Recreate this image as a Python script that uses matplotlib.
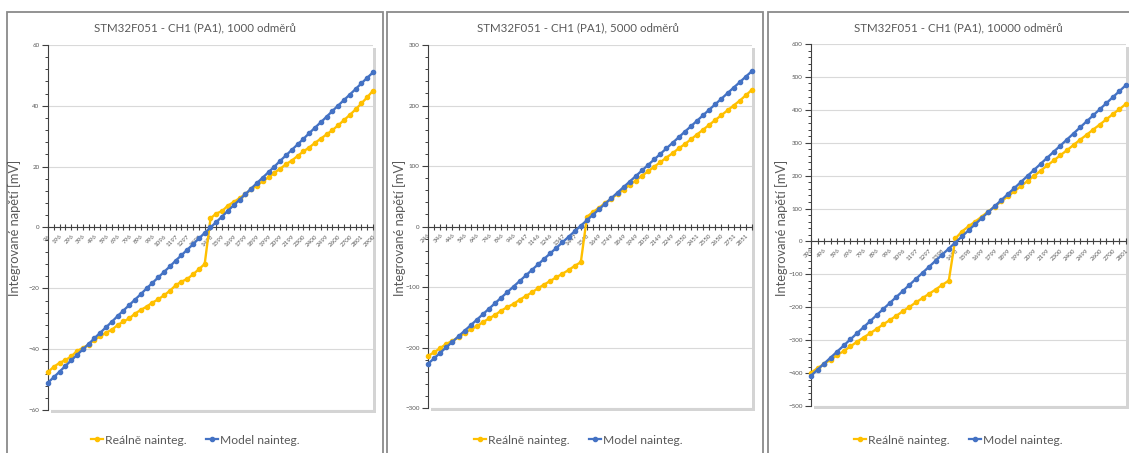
import matplotlib
matplotlib.use('Agg')
import matplotlib.pyplot as plt
from matplotlib.patches import Rectangle
from matplotlib.lines import Line2D
from matplotlib.ticker import MultipleLocator

# ---------------- data ----------------
labels1 = [96, 196, 296, 396, 496, 596, 696, 796, 896, 996, 1096, 1197, 1297, 1398, 1498,
           1599, 1699, 1799, 1899, 1999, 2099, 2199, 2300, 2400, 2499, 2600, 2700, 2801, 2900]
real1 = [-47.5, -45.8, -44.5, -43.6, -42.4, -40.6, -39.6, -38.5, -36.9, -35.8, -34.6, -33.6,
         -32.1, -30.9, -29.9, -28.3, -27.1, -26.0, -24.7, -23.6, -22.3, -20.8, -19.0, -17.8,
         -16.9, -15.4, -13.7, -12.0,
         3.0, 4.6, 5.4, 7.2, 8.4, 9.6, 11.0, 12.5, 13.8, 15.2, 16.5, 18.0, 19.3, 20.8, 22.0,
         23.5, 25.0, 26.3, 27.8, 29.2, 30.6, 32.0, 33.6, 35.3, 37.0, 38.8, 40.8, 42.8, 45.0]
model1 = [-51.0, -49.2, -47.4, -45.5, -43.7, -41.9, -40.1, -38.3, -36.4, -34.6, -32.8, -31.0,
          -29.1, -27.3, -25.5, -23.7, -21.9, -20.0, -18.2, -16.4, -14.6, -12.8, -10.9, -9.1,
          -7.3, -5.5, -3.6, -1.8, 0.0, 1.8, 3.6, 5.5, 7.3, 9.1, 10.9, 12.8, 14.6, 16.4, 18.2,
          20.0, 21.9, 23.7, 25.5, 27.3, 29.1, 31.0, 32.8, 34.6, 36.4, 38.3, 40.1, 41.9, 43.7,
          45.5, 47.4, 49.2, 51.0]

labels2 = [246, 346, 446, 546, 646, 746, 846, 946, 1047, 1146, 1246, 1347, 1447, 1548,
           1649, 1749, 1849, 1949, 2050, 2149, 2249, 2350, 2451, 2550, 2650, 2751, 2851]
real2 = [-214, -208, -201, -194, -189, -183, -176, -170, -165, -158, -152, -146, -139, -133,
         -128, -121, -115, -109, -102, -96, -90, -84, -78, -72, -65, -59,
         16, 24, 31, 39, 46, 54, 61, 69, 76, 84, 91, 99, 106, 114, 121, 129, 136, 144, 152,
         160, 168, 176, 184, 192, 200, 208, 217, 226]
model2 = [-227.0, -217.9, -208.7, -199.6, -190.5, -181.4, -172.2, -163.1, -154.0, -144.8,
          -135.7, -126.6, -117.4, -108.3, -99.2, -90.1, -80.9, -71.8, -62.7, -53.5, -44.4,
          -35.3, -26.1, -17.0, -7.9, 1.3, 10.4, 19.5, 28.6, 37.8, 46.9, 56.0, 65.2, 74.3,
          83.4, 92.6, 101.7, 110.8, 119.9, 129.1, 138.2, 147.3, 156.5, 165.6, 174.7, 183.9,
          193.0, 202.1, 211.2, 220.4, 229.5, 238.6, 247.8, 256.9]

labels3 = [396, 496, 596, 696, 796, 896, 996, 1096, 1197, 1297, 1398, 1498, 1598, 1699,
           1799, 1899, 1999, 2099, 2199, 2300, 2400, 2499, 2600, 2700, 2801]
real3 = [-399, -385, -372, -359, -345, -333, -319, -305, -292, -279, -266, -252, -239, -226,
         -212, -199, -185, -172, -159, -146, -132, -119,
         9, 30, 46, 60, 75, 91, 106, 122, 137, 153, 168, 184, 199, 215, 231, 246, 262, 277,
         293, 309, 324, 340, 355, 371, 387, 402, 418]
model3 = [-408.0, -389.6, -371.2, -352.8, -334.4, -316.0, -297.6, -279.2, -260.8, -242.4,
          -224.0, -205.6, -187.2, -168.8, -150.4, -132.0, -113.6, -95.2, -76.8, -58.4, -40.0,
          -21.6, -3.2, 15.2, 33.6, 52.0, 70.4, 88.8, 107.2, 125.6, 144.0, 162.4, 180.8, 199.2,
          217.6, 236.0, 254.4, 272.8, 291.2, 309.6, 328.0, 346.4, 364.8, 383.2, 401.6, 420.0,
          438.4, 456.8, 475.2]

titles = ["STM32F051 - CH1 (PA1), 1000 odměrů",
          "STM32F051 - CH1 (PA1), 5000 odměrů",
          "STM32F051 - CH1 (PA1), 10000 odměrů"]
ylabel = "Integrované napětí [mV]"
series_names = ["Reálně nainteg.", "Model nainteg."]

# ---------------- style ----------------
W, H = 1129, 453
FONT = ['Lato', 'DejaVu Sans']
GREY = '#595959'
AXC = '#404040'
YEL = '#FFC000'
BLU = '#4472C4'

fig = plt.figure(figsize=(W / 100, H / 100), dpi=100)
fig.patch.set_facecolor('white')


def fx(p):
    return p / W


def fy(p):
    return 1 - p / H


panels = [
    dict(frame=(7, 383), box=(48, 45, 373, 410), cx=195, ylx=15,
         labels=labels1, real=real1, model=model1, ylim=(-60, 60), major=20, minor=4),
    dict(frame=(387, 763), box=(428, 45, 752, 408), cx=578, ylx=400,
         labels=labels2, real=real2, model=model2, ylim=(-300, 300), major=100, minor=20),
    dict(frame=(768, 1140), box=(811, 44, 1126, 406), cx=958, ylx=782,
         labels=labels3, real=real3, model=model3, ylim=(-500, 600), major=100, minor=20),
]

for p, title in zip(panels, titles):
    f0, f1 = p['frame']
    fig.patches.append(Rectangle((fx(f0), fy(470)), fx(f1 - f0), (470 - 12) / H,
                                 transform=fig.transFigure, fill=False,
                                 edgecolor='#8a8a8a', lw=1.3, zorder=-5))
    x0, y0, x1, y1 = p['box']
    # plot-area shadow
    fig.patches.append(Rectangle((fx(x0 + 3), fy(y1 + 3)), fx(x1 - x0), (y1 - y0) / H,
                                 transform=fig.transFigure, facecolor='#d4d4d4',
                                 edgecolor='none', zorder=-2))
    ax = fig.add_axes([fx(x0), fy(y1), fx(x1 - x0), (y1 - y0) / H])
    ax.set_facecolor('white')
    n = len(p['real'])
    xs = list(range(n))
    ax.plot(xs, p['real'], color=YEL, lw=1.7, marker='o', ms=3, mec=YEL, mfc=YEL, zorder=3,
            clip_on=False)
    ax.plot(xs, p['model'], color=BLU, lw=1.7, marker='o', ms=3, mec=BLU, mfc=BLU, zorder=4,
            clip_on=False)
    ax.set_xlim(0, n - 1)
    ax.set_ylim(*p['ylim'])
    for s in ('top', 'right'):
        ax.spines[s].set_visible(False)
    ax.spines['bottom'].set_position(('data', 0))
    ax.spines['bottom'].set_color(AXC)
    ax.spines['left'].set_color(AXC)
    ax.spines['bottom'].set_zorder(2)
    ax.set_xticks(xs)
    lbls = [str(p['labels'][i // 2]) if (i % 2 == 0 and i // 2 < len(p['labels'])) else ''
            for i in xs]
    ax.set_xticklabels(lbls, rotation=45, ha='right', va='top', rotation_mode='anchor',
                       fontsize=4.5, color=GREY, family=FONT)
    ax.tick_params(axis='x', direction='inout', length=5, width=0.8, color=AXC, pad=2)
    ax.yaxis.set_major_locator(MultipleLocator(p['major']))
    ax.yaxis.set_minor_locator(MultipleLocator(p['minor']))
    ax.tick_params(axis='y', which='major', direction='out', length=4, width=0.8, color=AXC,
                   labelsize=4.5, labelcolor=GREY, pad=2)
    ax.tick_params(axis='y', which='minor', direction='out', length=2.5, width=0.7, color=AXC)
    for t in ax.get_yticklabels():
        t.set_family(FONT)
    ax.grid(axis='y', which='major', color='#d9d9d9', lw=0.8, zorder=0)
    ax.set_axisbelow(True)

    fig.text(fx(p['cx']), fy(28), title, ha='center', va='center', fontsize=8.3,
             color=GREY, family=FONT)
    fig.text(fx(p['ylx']), fy(228), ylabel, rotation=90, ha='center', va='center',
             fontsize=9.3, color=GREY, family=FONT)
    handles = [Line2D([], [], color=YEL, lw=1.6, marker='o', ms=3),
               Line2D([], [], color=BLU, lw=1.6, marker='o', ms=3)]
    fig.legend(handles, series_names, loc='center', bbox_to_anchor=(fx(p['cx']), fy(440)),
               ncol=2, frameon=False, prop={'family': FONT, 'size': 8.7}, labelcolor=GREY,
               handlelength=1.0, handletextpad=0.15, columnspacing=1.6,
               borderaxespad=0, borderpad=0)

fig.savefig('out.png', dpi=100, facecolor='white')
